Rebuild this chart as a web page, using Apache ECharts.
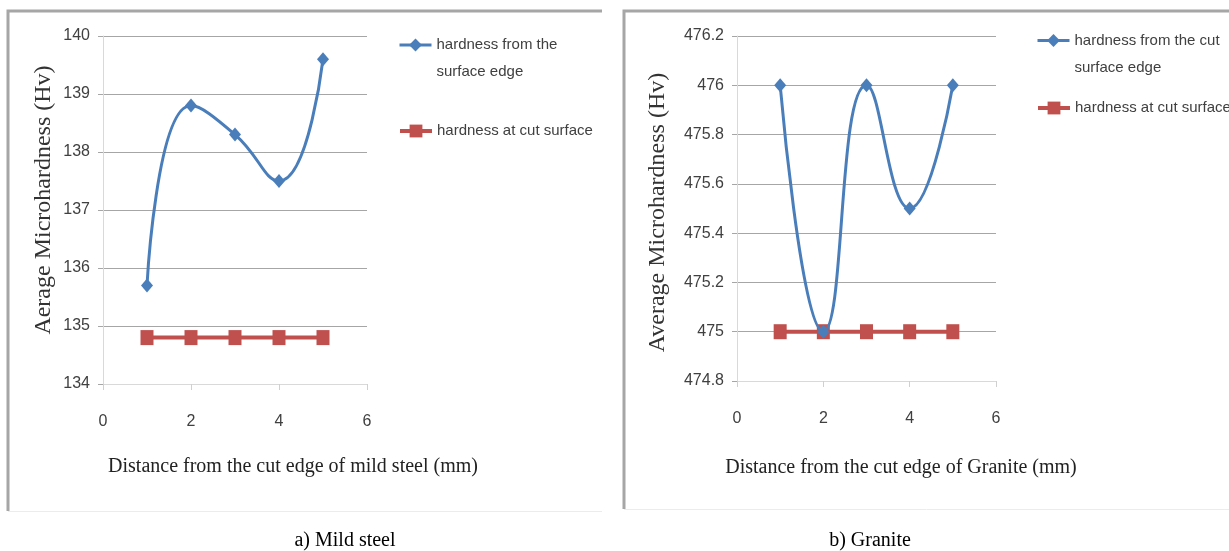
<!DOCTYPE html>
<html>
<head>
<meta charset="utf-8">
<script src="https://cdn.jsdelivr.net/npm/echarts@6/dist/echarts.min.js"></script>
<style>html,body{margin:0;padding:0;background:#fff;}#c{width:1229px;height:551px;}</style>
</head>
<body>
<div id="c"></div>
<script>
// ---- data ----
const steelX = [1, 2, 3, 4, 5];
const steelEdge = [135.7, 138.8, 138.3, 137.5, 139.6];
const steelCut = [134.8, 134.8, 134.8, 134.8, 134.8];
const graniteX = [1, 2, 3, 4, 5];
const graniteEdge = [476, 475, 476, 475.5, 476];
const graniteCut = [475, 475, 475, 475, 475];

const steelEdgeName = 'hardness from the surface edge';
const graniteEdgeName = 'hardness from the cut surface edge';
const cutName = 'hardness at cut surface';

const steelYTitle = 'Aerage Microhardness (Hv)';
const graniteYTitle = 'Average Microhardness (Hv)';
const steelXTitle = 'Distance from the cut edge of mild steel (mm)';
const graniteXTitle = 'Distance from the cut edge of Granite (mm)';
const captionA = 'a) Mild steel';
const captionB = 'b) Granite';

const BLUE = '#4a7ebb', RED = '#c0504d';
const SANS = '"Liberation Sans", Arial, sans-serif';
const SERIF = '"Liberation Serif", "Times New Roman", serif';

const zip = (xs, ys) => xs.map((x, i) => [x, ys[i]]);

function xAxis(gridIndex) {
  return {
    type: 'value', gridIndex, min: 0, max: 6, interval: 2,
    axisLine: { show: true, lineStyle: { color: '#d9d9d9', width: 1 } },
    axisTick: { show: true, length: 6, lineStyle: { color: '#d0d0d0' } },
    axisLabel: { color: '#404040', fontFamily: SANS, fontSize: 16, margin: 30 },
    splitLine: { show: false }
  };
}
function yAxis(gridIndex, min, max, interval, name, gap, namePad, fmt) {
  return {
    type: 'value', gridIndex, min, max, interval,
    name, nameLocation: 'middle', nameGap: gap, nameRotate: 90,
    nameTextStyle: { fontFamily: SERIF, fontSize: 24, color: '#333', padding: namePad },
    axisLine: { show: true, lineStyle: { color: '#d9d9d9', width: 1 } },
    axisTick: { show: true, length: 5, lineStyle: { color: '#a6a6a6' } },
    axisLabel: { color: '#404040', fontFamily: SANS, fontSize: 16, margin: 13, formatter: fmt },
    splitLine: { show: true, lineStyle: { color: '#a6a6a6', width: 1 } }
  };
}
function edgeSeries(name, xi, data) {
  return {
    name, type: 'line', xAxisIndex: xi, yAxisIndex: xi, data, smooth: 0.5,
    symbol: 'diamond', symbolSize: [12, 14],
    lineStyle: { color: BLUE, width: 3 }, itemStyle: { color: BLUE }, z: 3
  };
}
function cutSeries(name, xi, data) {
  return {
    name, type: 'line', xAxisIndex: xi, yAxisIndex: xi, data,
    symbol: 'rect', symbolSize: [13, 15],
    lineStyle: { color: RED, width: 4 }, itemStyle: { color: RED }, z: 2
  };
}
function legend(name, left, top, text, lw) {
  return {
    data: [name], left, top, orient: 'vertical', padding: 0,
    itemWidth: 32, itemHeight: 16, selectedMode: false,
    lineStyle: { width: lw },
    formatter: () => text,
    textStyle: { fontFamily: SANS, fontSize: 15, color: '#404040', lineHeight: 27 }
  };
}
function gtext(x, y, text, font, color) {
  return { type: 'text', x, y, silent: true,
    style: { text, font, fill: color, textAlign: 'center', textVerticalAlign: 'middle' } };
}

const chart = echarts.init(document.getElementById('c'), null, { renderer: 'canvas' });
chart.setOption({
  backgroundColor: '#fff',
  animation: false,
  grid: [
    { left: 103, top: 36, width: 264, height: 348 },
    { left: 737, top: 36, width: 259, height: 345 }
  ],
  xAxis: [xAxis(0), xAxis(1)],
  yAxis: [
    yAxis(0, 134, 140, 1, steelYTitle, 47, [0, 0, 0, 20], v => String(Math.round(v))),
    yAxis(1, 474.8, 476.2, 0.2, graniteYTitle, 67, [0, 8, 0, 0], v => String(+v.toFixed(1)))
  ],
  legend: [
    legend(steelEdgeName, 398, 4.5, ' \nhardness from the\nsurface edge', 3),
    legend(cutName, 398, 117.5, 'hardness at cut surface', 4),
    legend(graniteEdgeName, 1036, 0, ' \nhardness from the cut\nsurface edge', 3),
    legend(cutName, 1036, 94.5, 'hardness at cut surface', 4)
  ],
  series: [
    edgeSeries(steelEdgeName, 0, zip(steelX, steelEdge)),
    cutSeries(cutName, 0, zip(steelX, steelCut)),
    edgeSeries(graniteEdgeName, 1, zip(graniteX, graniteEdge)),
    cutSeries(cutName, 1, zip(graniteX, graniteCut))
  ],
  graphic: [
    { type: 'polyline', silent: true, shape: { points: [[8, 511], [8, 11], [602, 11]] }, style: { stroke: '#a6a6a6', lineWidth: 3, fill: null } },
    { type: 'line', silent: true, shape: { x1: 8, y1: 511.5, x2: 602, y2: 511.5 }, style: { stroke: '#ececec', lineWidth: 1 } },
    { type: 'polyline', silent: true, shape: { points: [[624, 509], [624, 11], [1229, 11]] }, style: { stroke: '#a6a6a6', lineWidth: 3, fill: null } },
    { type: 'line', silent: true, shape: { x1: 624, y1: 509.5, x2: 1229, y2: 509.5 }, style: { stroke: '#ececec', lineWidth: 1 } },
    gtext(293, 467, steelXTitle, '20px ' + SERIF, '#222'),
    gtext(901, 468, graniteXTitle, '20px ' + SERIF, '#222'),
    gtext(345, 541, captionA, '20px ' + SERIF, '#000'),
    gtext(870, 541, captionB, '20px ' + SERIF, '#000')
  ]
});
</script>
</body>
</html>
